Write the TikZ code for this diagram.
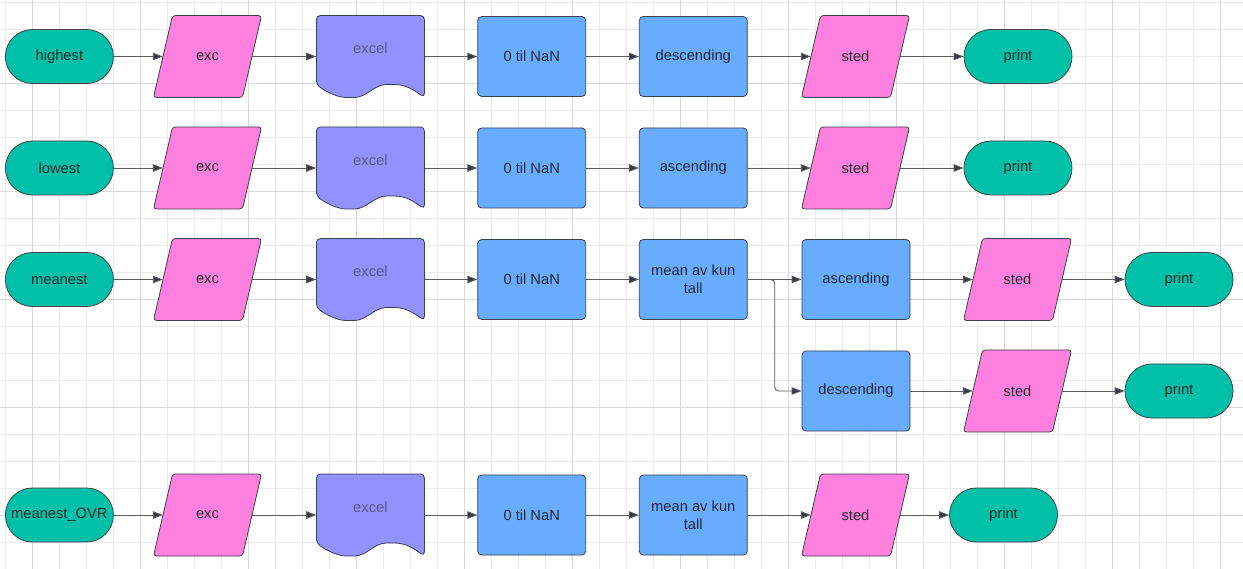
\documentclass[tikz,border=0pt]{standalone}
\usepackage{fontspec}
\setmainfont{Liberation Sans}
\usetikzlibrary{arrows.meta}
\definecolor{tealc}{HTML}{00C1A7}
\definecolor{pinkc}{HTML}{FF80DF}
\definecolor{purplec}{HTML}{9391FF}
\definecolor{bluec}{HTML}{68ACFF}
\definecolor{bordercol}{HTML}{3A414A}
\definecolor{txt}{HTML}{222831}
\definecolor{exceltxt}{HTML}{5A5A82}
\definecolor{linec}{HTML}{5A5A5A}
\definecolor{tipc}{HTML}{333A44}
\definecolor{gridminor}{HTML}{EBEBEB}
\definecolor{gridmajor}{HTML}{D9D9D9}
\tikzset{
  lbl/.style={text=txt, font=\fontsize{14.7}{17.6}\selectfont},
  base/.style={lbl, draw=bordercol, line width=0.8pt, inner sep=0pt},
  term/.style={base, fill=tealc, rectangle, rounded corners=27pt, minimum width=108pt, minimum height=54pt},
  proc/.style={base, fill=bluec, rounded corners=4pt, minimum width=108pt, minimum height=80pt, align=center},
  parashape/.style={draw=bordercol, line width=0.8pt, fill=pinkc, rounded corners=3pt},
  paranode/.style={lbl, inner sep=0pt, minimum width=89pt, minimum height=82pt},
  docshape/.style={draw=bordercol, line width=0.8pt, fill=purplec, rounded corners=4pt},
  docnode/.style={inner sep=0pt, minimum width=108pt, minimum height=82pt},
  doctext/.style={lbl, text=exceltxt, inner sep=0pt},
  conn/.style={draw=linec, line width=0.9pt, -{Triangle[length=10pt,width=7.5pt,fill=tipc]}},
  gminor/.style={draw=gridminor, line width=0.8pt},
  gmajor/.style={draw=gridmajor, line width=0.8pt}
}
\newcommand\paraat[4]{%
  \draw[parashape] ({#2-54},{#3+41}) -- ({#2+35},{#3+41}) -- ({#2+54},{#3-41}) -- ({#2-35},{#3-41}) -- cycle;
  \node[paranode] (#1) at (#2,#3) {#4};}
\newcommand\docat[4]{%
  \draw[docshape] ({#2-54},{#3+28}) -- ({#2-54},{#3-41}) -- ({#2+54},{#3-41}) -- ({#2+54},{#3+41})
    .. controls ({#2+44},{#3+34}) and ({#2+36},{#3+28}) .. ({#2+20},{#3+28})
    .. controls ({#2+4},{#3+28}) and ({#2-4},{#3+41}) .. ({#2-20},{#3+41})
    .. controls ({#2-34},{#3+41}) and ({#2-46},{#3+34}) .. cycle;
  \node[docnode] (#1) at (#2,#3) {};
  \node[doctext] (#1t) at ({#2},{#3-8}) {#4};}
\begin{document}
\begin{tikzpicture}[x=1pt,y=-1pt]
\useasboundingbox (0,0) rectangle (1243,569);
\fill[white] (0,0) rectangle (1243,569);
% grid
\foreach \k in {0,...,45} {\draw[gminor] ({5.4+27*\k},0) -- ({5.4+27*\k},569);}
\foreach \k in {0,...,20} {\draw[gminor] (0,{2.3+27*\k}) -- (1243,{2.3+27*\k});}
\foreach \k in {1,5,...,45} {\draw[gmajor] ({5.4+27*\k},0) -- ({5.4+27*\k},569);}
\foreach \k in {3,7,...,19} {\draw[gmajor] (0,{2.3+27*\k}) -- (1243,{2.3+27*\k});}

% row 1
\node[term] (h1) at (59.4,56.5) {highest};
\paraat{x1}{207.5}{56.5}{exc}
\docat{e1}{370.4}{56.5}{excel}
\node[proc] (n1) at (531.7,56.5) {0 til NaN};
\node[proc] (s1) at (693.3,56.5) {descending};
\paraat{st1}{855.5}{56.5}{sted}
\node[term] (p1) at (1018,56.5) {print};
\draw[conn] (h1.east) -- (x1.west);
\draw[conn] (x1.east) -- (e1.west);
\draw[conn] (e1.east) -- (n1.west);
\draw[conn] (n1.east) -- (s1.west);
\draw[conn] (s1.east) -- (st1.west);
\draw[conn] (st1.east) -- (p1.west);

% row 2
\node[term] (h2) at (59.4,168) {lowest};
\paraat{x2}{207.5}{168}{exc}
\docat{e2}{370.4}{168}{excel}
\node[proc] (n2) at (531.7,168) {0 til NaN};
\node[proc] (s2) at (693.3,168) {ascending};
\paraat{st2}{855.5}{168}{sted}
\node[term] (p2) at (1018,168) {print};
\draw[conn] (h2.east) -- (x2.west);
\draw[conn] (x2.east) -- (e2.west);
\draw[conn] (e2.east) -- (n2.west);
\draw[conn] (n2.east) -- (s2.west);
\draw[conn] (s2.east) -- (st2.west);
\draw[conn] (st2.east) -- (p2.west);

% row 3 and 4
\node[term] (h3) at (59.4,279.5) {meanest};
\paraat{x3}{207.5}{279.5}{exc}
\docat{e3}{370.4}{279.5}{excel}
\node[proc] (n3) at (531.7,279.5) {0 til NaN};
\node[proc] (m3) at (693.3,279.5) {mean av kun\\tall};
\node[proc] (a3) at (856,279.5) {ascending};
\paraat{st3}{1017.5}{279.5}{sted}
\node[term] (p3) at (1179,279.5) {print};
\node[proc] (d4) at (856,391) {descending};
\paraat{st4}{1017.5}{391}{sted}
\node[term] (p4) at (1179,391) {print};
\draw[conn] (h3.east) -- (x3.west);
\draw[conn] (x3.east) -- (e3.west);
\draw[conn] (e3.east) -- (n3.west);
\draw[conn] (n3.east) -- (m3.west);
\draw[conn] (m3.east) -- (a3.west);
\draw[conn, rounded corners=4pt] (m3.east) -- ++(27,0) |- (d4.west);
\draw[conn] (a3.east) -- (st3.west);
\draw[conn] (st3.east) -- (p3.west);
\draw[conn] (d4.east) -- (st4.west);
\draw[conn] (st4.east) -- (p4.west);

% row 5
\node[term] (h5) at (59.4,515) {meanest\_OVR};
\paraat{x5}{207.5}{515}{exc}
\docat{e5}{370.4}{515}{excel}
\node[proc] (n5) at (531.7,515) {0 til NaN};
\node[proc] (m5) at (693.3,515) {mean av kun\\tall};
\paraat{st5}{855.5}{515}{sted}
\node[term] (p5) at (1003.5,515) {print};
\draw[conn] (h5.east) -- (x5.west);
\draw[conn] (x5.east) -- (e5.west);
\draw[conn] (e5.east) -- (n5.west);
\draw[conn] (n5.east) -- (m5.west);
\draw[conn] (m5.east) -- (st5.west);
\draw[conn] (st5.east) -- (p5.west);
\end{tikzpicture}
\end{document}
